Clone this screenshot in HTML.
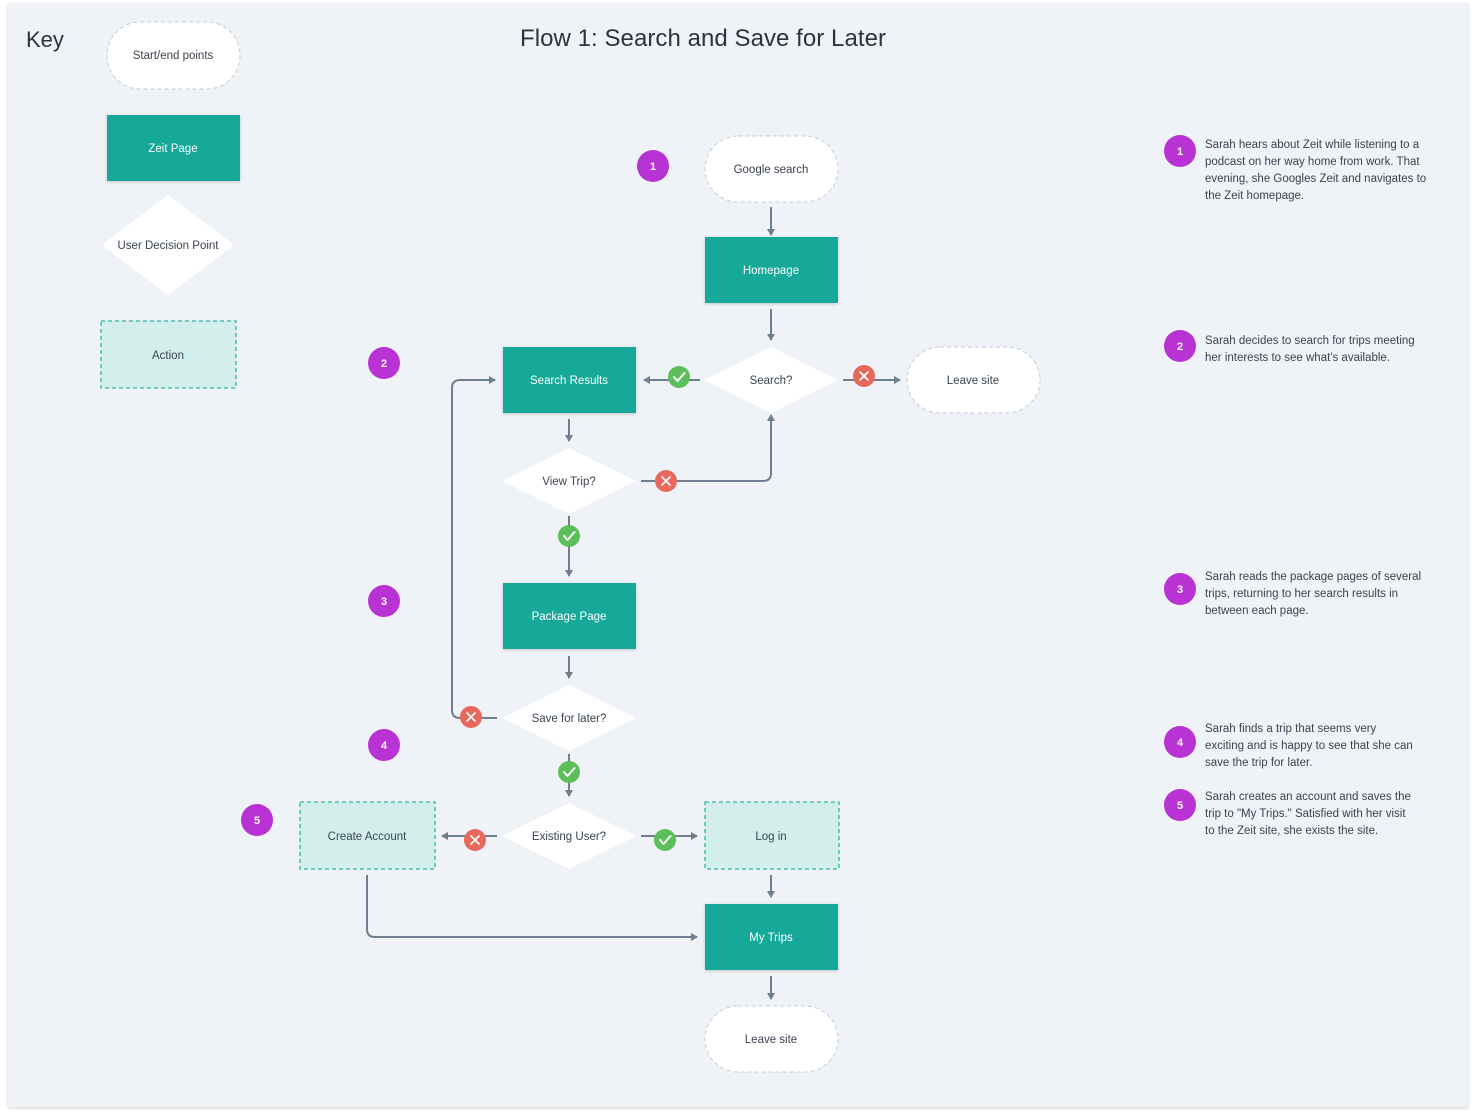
<!DOCTYPE html>
<html><head><meta charset="utf-8"><style>
html,body{margin:0;padding:0;background:#fff;}
svg{display:block;font-family:"Liberation Sans",sans-serif;}
</style></head><body>
<svg width="1476" height="1118" viewBox="0 0 1476 1118" xmlns="http://www.w3.org/2000/svg">
<defs>
<marker id="ar" markerWidth="8" markerHeight="8" refX="6" refY="4" orient="auto" markerUnits="userSpaceOnUse"><path d="M0,0 L7,4 L0,8 Z" fill="#6f7f8f"/></marker>
<filter id="sh" x="-5%" y="-5%" width="110%" height="110%"><feDropShadow dx="0" dy="1" stdDeviation="1.5" flood-color="#000" flood-opacity="0.18"/></filter>
<g id="chk"><circle r="11" fill="#5cbf5a"/><path d="M-5,0 L-1.5,4 L5.5,-4" stroke="#fff" stroke-width="2" fill="none" stroke-linecap="round" stroke-linejoin="round"/></g>
<g id="xx"><circle r="11" fill="#e8695c"/><path d="M-4.5,-4.5 L4.5,4.5 M4.5,-4.5 L-4.5,4.5" stroke="#fff" stroke-width="1.6"/></g>
</defs>
<rect x="8" y="3" width="1460" height="1104" fill="#eff2f6" filter="url(#sh)"/>
<text x="26" y="47" font-size="22" fill="#2a3440">Key</text>
<text x="703" y="46" font-size="24" fill="#2a3440" text-anchor="middle" textLength="366">Flow 1: Search and Save for Later</text>

<g font-size="11.5" fill="#3a4450" text-anchor="middle">
<rect x="107" y="22" width="133" height="67" rx="33" fill="#fff" stroke="#c5ccd4" stroke-dasharray="4,3"/>
<text x="173" y="59">Start/end points</text>
<rect x="107" y="115" width="133" height="66" fill="#17a898" filter="url(#sh)"/>
<text x="173" y="152" fill="#fff">Zeit Page</text>
<polygon points="168,195 234,245 168,295 102,245" fill="#fff"/>
<text x="168" y="249">User Decision Point</text>
<rect x="101" y="321" width="135" height="67" fill="#d3efec" stroke="#2fb3a3" stroke-width="1.3" stroke-dasharray="4,3"/>
<text x="168" y="359">Action</text>

<g stroke="#6f7f8f" stroke-width="2" fill="none">
<line x1="771" y1="207" x2="771" y2="235" marker-end="url(#ar)"/>
<line x1="771" y1="309" x2="771" y2="340" marker-end="url(#ar)"/>
<line x1="700" y1="380" x2="644" y2="380" marker-end="url(#ar)"/>
<line x1="843" y1="380" x2="900" y2="380" marker-end="url(#ar)"/>
<line x1="569" y1="419" x2="569" y2="441" marker-end="url(#ar)"/>
<path d="M641,481 L763,481 Q771,481 771,473 L771,415" marker-end="url(#ar)"/>
<line x1="569" y1="516" x2="569" y2="576" marker-end="url(#ar)"/>
<line x1="569" y1="656" x2="569" y2="678" marker-end="url(#ar)"/>
<path d="M497,718 L460,718 Q452,718 452,710 L452,388 Q452,380 460,380 L495,380" marker-end="url(#ar)"/>
<line x1="569" y1="754" x2="569" y2="796" marker-end="url(#ar)"/>
<line x1="497" y1="836" x2="442" y2="836" marker-end="url(#ar)"/>
<line x1="641" y1="836" x2="697" y2="836" marker-end="url(#ar)"/>
<line x1="771" y1="875" x2="771" y2="897" marker-end="url(#ar)"/>
<path d="M367,875 L367,929 Q367,937 375,937 L697,937" marker-end="url(#ar)"/>
<line x1="771" y1="976" x2="771" y2="999" marker-end="url(#ar)"/>
</g>

<rect x="705" y="136" width="133" height="66" rx="33" fill="#fff" stroke="#c5ccd4" stroke-dasharray="4,3"/>
<text x="771" y="173">Google search</text>
<rect x="705" y="237" width="133" height="66" fill="#17a898" filter="url(#sh)"/>
<text x="771" y="274" fill="#fff">Homepage</text>
<polygon points="771,347 838,380 771,413 704,380" fill="#fff"/>
<text x="771" y="384">Search?</text>
<rect x="907" y="347" width="133" height="66" rx="33" fill="#fff" stroke="#c5ccd4" stroke-dasharray="4,3"/>
<text x="973" y="384">Leave site</text>
<rect x="503" y="347" width="133" height="66" fill="#17a898" filter="url(#sh)"/>
<text x="569" y="384" fill="#fff">Search Results</text>
<polygon points="569,448 636,481 569,514 502,481" fill="#fff"/>
<text x="569" y="485">View Trip?</text>
<rect x="503" y="583" width="133" height="66" fill="#17a898" filter="url(#sh)"/>
<text x="569" y="620" fill="#fff">Package Page</text>
<polygon points="569,685 636,718 569,751 502,718" fill="#fff"/>
<text x="569" y="722">Save for later?</text>
<polygon points="569,803 636,836 569,869 502,836" fill="#fff"/>
<text x="569" y="840">Existing User?</text>
<rect x="300" y="802" width="135" height="67" fill="#d3efec" stroke="#2fb3a3" stroke-width="1.3" stroke-dasharray="4,3"/>
<text x="367" y="840">Create Account</text>
<rect x="705" y="802" width="134" height="67" fill="#d3efec" stroke="#2fb3a3" stroke-width="1.3" stroke-dasharray="4,3"/>
<text x="771" y="840">Log in</text>
<rect x="705" y="904" width="133" height="66" fill="#17a898" filter="url(#sh)"/>
<text x="771" y="941" fill="#fff">My Trips</text>
<rect x="705" y="1006" width="133" height="66" rx="33" fill="#fff" stroke="#c5ccd4" stroke-dasharray="4,3"/>
<text x="771" y="1043">Leave site</text>
</g>

<use href="#chk" x="679" y="377"/>
<use href="#xx" x="864" y="376"/>
<use href="#xx" x="666" y="481"/>
<use href="#chk" x="569" y="536"/>
<use href="#xx" x="471" y="717"/>
<use href="#chk" x="569" y="772"/>
<use href="#xx" x="475" y="840"/>
<use href="#chk" x="665" y="840"/>

<g font-size="11" fill="#fff" text-anchor="middle" font-weight="bold">
<circle cx="653" cy="166" r="16" fill="#b832d4"/><text x="653" y="170">1</text>
<circle cx="384" cy="363" r="16" fill="#b832d4"/><text x="384" y="367">2</text>
<circle cx="384" cy="601" r="16" fill="#b832d4"/><text x="384" y="605">3</text>
<circle cx="384" cy="745" r="16" fill="#b832d4"/><text x="384" y="749">4</text>
<circle cx="257" cy="820" r="16" fill="#b832d4"/><text x="257" y="824">5</text>
<circle cx="1180" cy="151" r="16" fill="#b832d4"/><text x="1180" y="155">1</text>
<circle cx="1180" cy="346" r="16" fill="#b832d4"/><text x="1180" y="350">2</text>
<circle cx="1180" cy="589" r="16" fill="#b832d4"/><text x="1180" y="593">3</text>
<circle cx="1180" cy="742" r="16" fill="#b832d4"/><text x="1180" y="746">4</text>
<circle cx="1180" cy="805" r="16" fill="#b832d4"/><text x="1180" y="809">5</text>
</g>

<g font-size="11.5" fill="#3a4450">
<text x="1205" y="148">Sarah hears about Zeit while listening to a</text>
<text x="1205" y="165">podcast on her way home from work. That</text>
<text x="1205" y="182">evening, she Googles Zeit and navigates to</text>
<text x="1205" y="199">the Zeit homepage.</text>
<text x="1205" y="344">Sarah decides to search for trips meeting</text>
<text x="1205" y="361">her interests to see what's available.</text>
<text x="1205" y="580">Sarah reads the package pages of several</text>
<text x="1205" y="597">trips, returning to her search results in</text>
<text x="1205" y="614">between each page.</text>
<text x="1205" y="732">Sarah finds a trip that seems very</text>
<text x="1205" y="749">exciting and is happy to see that she can</text>
<text x="1205" y="766">save the trip for later.</text>
<text x="1205" y="800">Sarah creates an account and saves the</text>
<text x="1205" y="817">trip to "My Trips." Satisfied with her visit</text>
<text x="1205" y="834">to the Zeit site, she exists the site.</text>
</g>
</svg>
</body></html>
